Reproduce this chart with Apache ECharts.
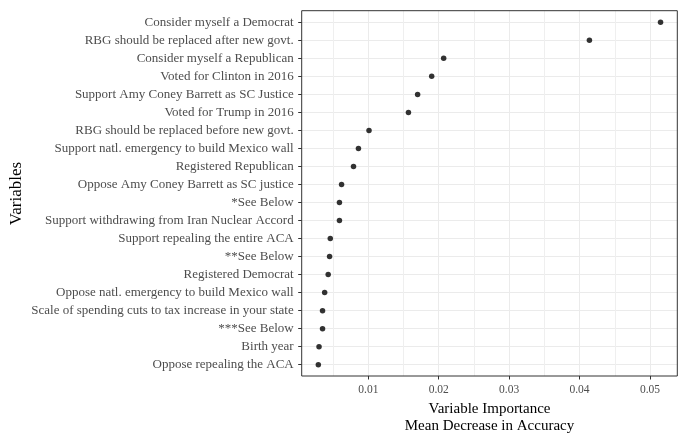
<!DOCTYPE html>
<html><head><meta charset="utf-8">
<script src="https://cdn.jsdelivr.net/npm/echarts@6/dist/echarts.min.js"></script>
<style>html,body{margin:0;padding:0;background:#fff}#c{width:683px;height:435px}</style>
</head><body><div id="c"></div>
<script>
const variables = [
  "Consider myself a Democrat",
  "RBG should be replaced after new govt.",
  "Consider myself a Republican",
  "Voted for Clinton in 2016",
  "Support Amy Coney Barrett as SC Justice",
  "Voted for Trump in 2016",
  "RBG should be replaced before new govt.",
  "Support natl. emergency to build Mexico wall",
  "Registered Republican",
  "Oppose Amy Coney Barrett as SC justice",
  "*See Below",
  "Support withdrawing from Iran Nuclear Accord",
  "Support repealing the entire ACA",
  "**See Below",
  "Registered Democrat",
  "Oppose natl. emergency to build Mexico wall",
  "Scale of spending cuts to tax increase in your state",
  "***See Below",
  "Birth year",
  "Oppose repealing the ACA"
];
const importance = [0.0515, 0.0414, 0.0207, 0.0190, 0.0170, 0.0157, 0.0101, 0.0086, 0.0079, 0.0062,
  0.0059, 0.0059, 0.0046, 0.0045, 0.0043, 0.0038, 0.0035, 0.0035, 0.0030, 0.0029];
const majorTicks = [0.01, 0.02, 0.03, 0.04, 0.05];
const minorTicks = [0.005, 0.015, 0.025, 0.035, 0.045];
const tickLabels = ["0.01", "0.02", "0.03", "0.04", "0.05"];
const xMin = 0.00054, xMax = 0.05388;

const FONT = '"Liberation Serif", "Times New Roman", serif';
const chart = echarts.init(document.getElementById('c'), null, {renderer: 'canvas'});
const L = 301.7, W = 375.6;
chart.setOption({
  animation: false,
  backgroundColor: '#ffffff',
  grid: [
    {left: L, top: 10.7, width: W, height: 365.3, outerBoundsMode: 'none', containLabel: false,
     show: true, borderColor: '#333333', borderWidth: 1, backgroundColor: 'transparent', z: 3},
    {left: L, top: 22.3, width: W, height: 342.4, outerBoundsMode: 'none', containLabel: false}
  ],
  xAxis: [
    {
      type: 'value', gridIndex: 0, min: xMin, max: xMax,
      name: 'Variable Importance\nMean Decrease in Accuracy',
      nameLocation: 'middle', nameGap: 22.5,
      nameTextStyle: {fontFamily: FONT, fontSize: 15, color: '#000', lineHeight: 17, verticalAlign: 'top'},
      axisLine: {show: false},
      axisTick: {show: true, length: 3.5, lineStyle: {color: '#333333'}, customValues: majorTicks},
      axisLabel: {show: true, customValues: majorTicks, margin: 7.5, fontFamily: FONT, fontSize: 11.5, color: '#4D4D4D',
        formatter: v => tickLabels[majorTicks.findIndex(t => Math.abs(t - v) < 1e-9)] ?? ''},
      splitLine: {show: true, lineStyle: {color: '#EBEBEB', width: 1}}
    },
    {
      type: 'value', gridIndex: 0, min: xMin, max: xMax,
      axisLine: {show: false},
      axisTick: {show: false, customValues: minorTicks},
      axisLabel: {show: false, customValues: minorTicks},
      splitLine: {show: true, lineStyle: {color: '#EFEFEF', width: 1}}
    },
    {
      type: 'value', gridIndex: 1, min: xMin, max: xMax, show: false,
      splitLine: {show: false}
    }
  ],
  yAxis: [
    {type: 'value', gridIndex: 0, min: 0, max: 1, show: false, splitLine: {show: false}},
    {
      type: 'category', gridIndex: 1, data: variables, inverse: true, boundaryGap: false,
      name: 'Variables', nameLocation: 'middle', nameGap: 277, nameRotate: 90, nameMoveOverlap: false,
      nameTextStyle: {fontFamily: FONT, fontSize: 17, color: '#000'},
      axisLine: {show: false},
      axisTick: {show: true, length: 3.5, lineStyle: {color: '#333333'}},
      axisLabel: {show: true, interval: 0, margin: 8, fontFamily: FONT, fontSize: 13, color: '#4D4D4D'},
      splitLine: {show: true, interval: 0, lineStyle: {color: '#EBEBEB', width: 1}}
    }
  ],
  series: [{
    type: 'scatter', xAxisIndex: 2, yAxisIndex: 1,
    symbol: 'circle', symbolSize: 5.5,
    itemStyle: {color: '#000000'},
    data: importance.map((v, i) => [v, variables[i]]),
    z: 5
  }]
});
</script>
</body></html>
